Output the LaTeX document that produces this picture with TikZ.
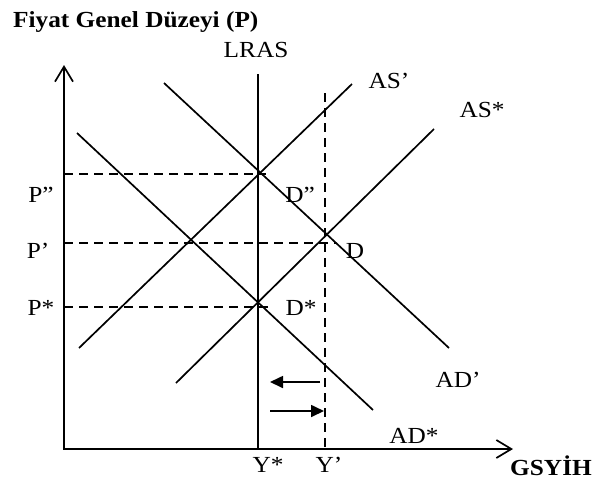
\documentclass[tikz,border=0pt]{standalone}
\usepackage{fontspec}
\setmainfont{Liberation Serif}[FakeStretch=1.1]
\usetikzlibrary{arrows.meta}
\tikzset{
  curve/.style={line width=1.7pt},
  guide/.style={line width=1.6pt, dash pattern=on 9pt off 6pt},
  axisline/.style={line width=1.7pt, -{Straight Barb[length=15pt,width=18pt,line width=1.7pt]}},
  shiftarrow/.style={line width=1.7pt, -{Triangle[length=13pt,width=12pt]}},
  lab/.style={font=\fontsize{23}{26}\selectfont, inner sep=0pt, anchor=base},
  blab/.style={lab, font=\fontsize{23}{26}\selectfont\bfseries}
}
\begin{document}
\begin{tikzpicture}[x=1pt, y=-1pt]
\useasboundingbox (0,0) rectangle (594,483);
% axes
\coordinate (O) at (64,449);
\coordinate (Ytop) at (64,65);
\coordinate (Xend) at (513,449);
\draw[axisline] (O) -- (Ytop);
\draw[axisline] ([xshift=-1pt]O) -- (Xend);
% LRAS and Y'
\coordinate (lrasT) at (258,74);
\coordinate (lrasB) at (258,449);
\draw[curve] (lrasT) -- (lrasB);
\coordinate (ypT) at (325,93);
\coordinate (ypB) at (325,449);
\draw[guide] (ypT) -- (ypB);
% price guides
\coordinate (pppL) at (64,174);
\coordinate (pppR) at (266,174);
\coordinate (ppL) at (64,243);
\coordinate (ppR) at (336,243);
\coordinate (psL) at (64,307);
\coordinate (psR) at (270,307);
\draw[guide] (pppL) -- (pppR);
\draw[guide] (ppL) -- (ppR);
\draw[guide] (psL) -- (psR);
% curves
\coordinate (adsA) at (77,133);
\coordinate (adsB) at (373,410);
\coordinate (adpA) at (164,83);
\coordinate (adpB) at (449,348);
\coordinate (aspA) at (79,348);
\coordinate (aspB) at (352,84);
\coordinate (assA) at (176,383);
\coordinate (assB) at (434,129);
\draw[curve] (adsA) -- (adsB);
\draw[curve] (adpA) -- (adpB);
\draw[curve] (aspA) -- (aspB);
\draw[curve] (assA) -- (assB);
% shift arrows
\coordinate (l1) at (320,382);
\coordinate (l2) at (270,382);
\coordinate (r1) at (270,411);
\coordinate (r2) at (324,411);
\draw[shiftarrow] (l1) -- (l2);
\draw[shiftarrow] (r1) -- (r2);
% labels
\node[blab, anchor=base west] (title) at (13,27) {Fiyat Genel Düzeyi (P)};
\node[lab] (tLRAS) at (256,57) {LRAS};
\node[lab] (tASp) at (389,88) {AS’};
\node[lab] (tASs) at (482,117) {AS*};
\node[lab] (tDpp) at (300,202) {D”};
\node[lab] (tD) at (355,258) {D};
\node[lab] (tDs) at (301,315) {D*};
\node[lab] (tPpp) at (41,202) {P”};
\node[lab] (tPp) at (38,258) {P’};
\node[lab] (tPs) at (41,315) {P*};
\node[lab] (tADp) at (458,387) {AD’};
\node[lab] (tADs) at (414,443) {AD*};
\node[lab] (tYs) at (268,472) {Y*};
\node[lab] (tYp) at (329,472) {Y’};
\node[blab] (tGS) at (551,475) {GSYİH};
\end{tikzpicture}
\end{document}
